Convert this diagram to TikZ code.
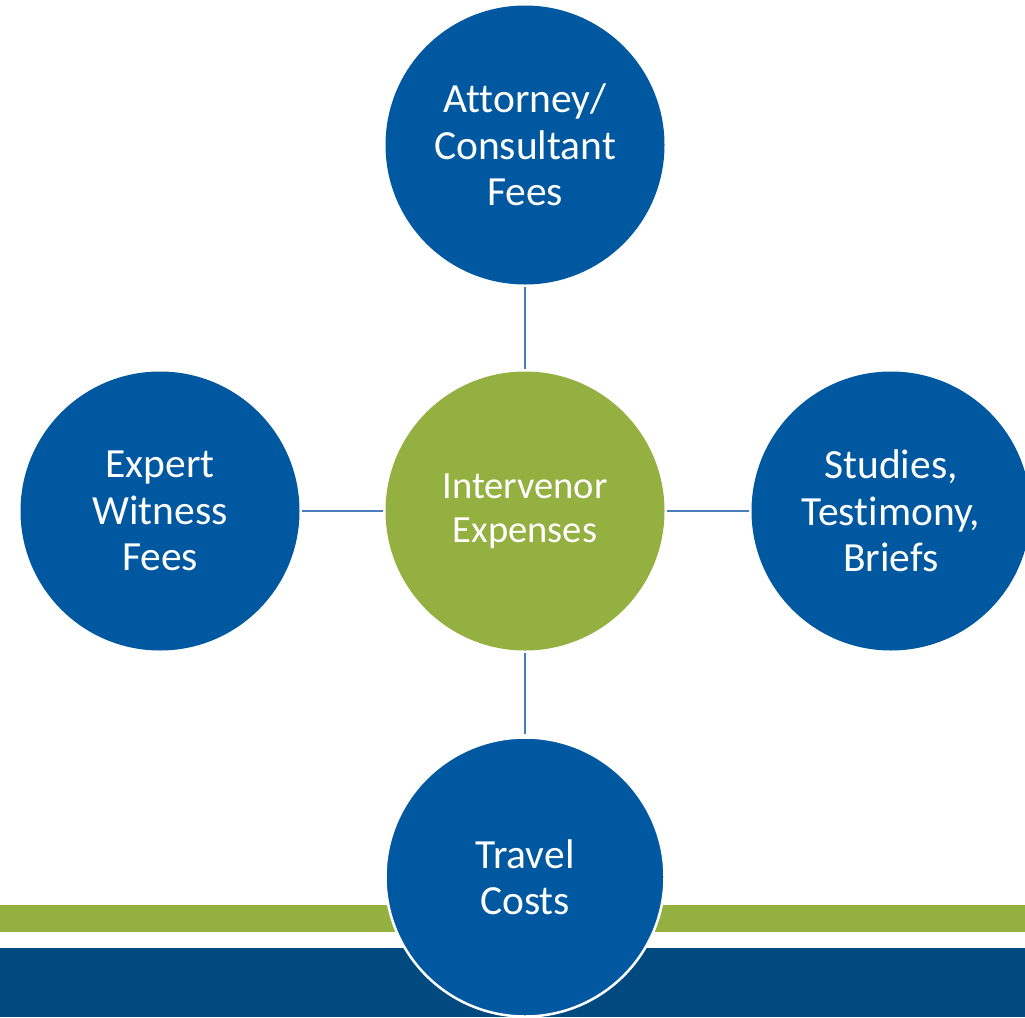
\documentclass[tikz,border=0pt]{standalone}
\usepackage{fontspec}
\setmainfont{Carlito}[Ligatures={NoCommon}]
\definecolor{cblue}{RGB}{0,88,160}
\definecolor{cgreen}{RGB}{147,176,65}
\definecolor{cdark}{RGB}{0,74,128}
\definecolor{cline}{RGB}{74,126,187}
\begin{document}
\begin{tikzpicture}[x=1pt,y=-1pt,
  outer/.style={circle,fill=cblue,minimum size=279pt,inner sep=0pt,text=white,align=center,
    font=\fontsize{41.5}{46.5}\selectfont},
  hub/.style={circle,fill=cgreen,minimum size=279pt,inner sep=0pt,text=white,align=center,
    font=\fontsize{38.5}{44}\selectfont},
  link/.style={draw=cline,line width=2.6pt,shorten <=2pt,shorten >=2pt}]
\useasboundingbox (0,0) rectangle (1025,1017);
\fill[white] (0,0) rectangle (1025,1017);
\fill[cgreen] (0,905) rectangle (1025,932);
\fill[cdark] (0,948) rectangle (1025,1017);
\node[hub] (c) at (525,511) {Intervenor\\Expenses};
\node[outer] (t) at (525,145) {Attorney/\\Consultant\\Fees};
\node[outer] (l) at (160,511) {Expert\\Witness\\Fees};
\node[outer] (r) at (891,511) {Studies,\\Testimony,\\Briefs};
\node[outer,draw=white,line width=2.5pt] (b) at (525,877) {Travel\\Costs};
\draw[link] (t) -- (c);
\draw[link] (l) -- (c);
\draw[link] (c) -- (r);
\draw[link] (c) -- (b);
\end{tikzpicture}
\end{document}
